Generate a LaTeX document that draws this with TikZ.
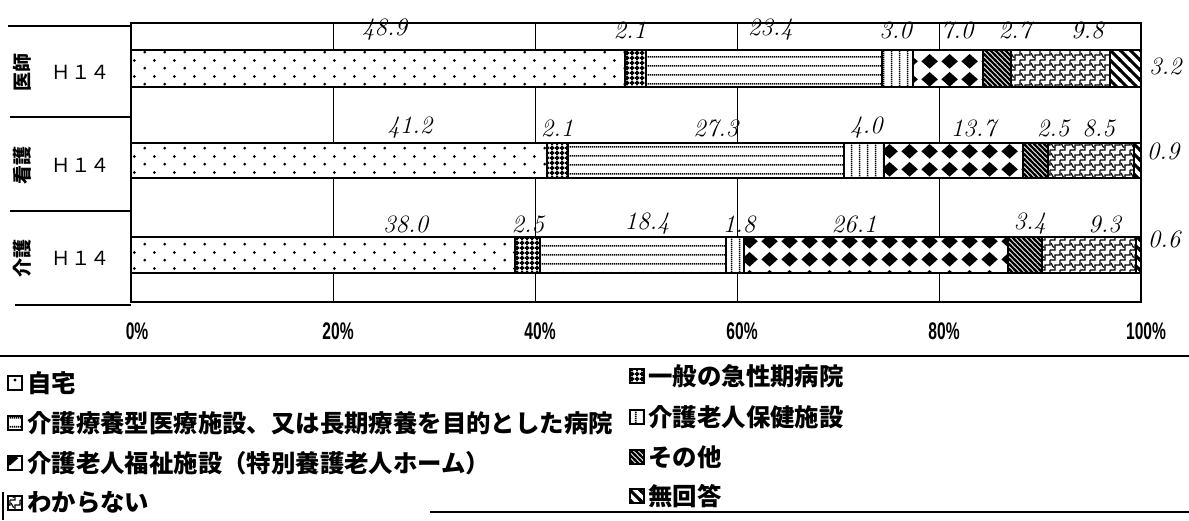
\documentclass[tikz,border=0pt]{standalone}
\usepackage{fontspec}
\newfontfamily\jpfont{Noto Sans CJK JP}
\newfontfamily\axisfont[FakeStretch=0.65]{Liberation Sans}
\usetikzlibrary{patterns}

\pgfdeclarepatternformonly{zitaku dots}{\pgfpointorigin}{\pgfpoint{10pt}{8pt}}{\pgfpoint{10pt}{8pt}}{%
  \pgfpathcircle{\pgfpoint{2.5pt}{2pt}}{0.8pt}%
  \pgfpathcircle{\pgfpoint{7.5pt}{6pt}}{0.8pt}%
  \pgfusepath{fill}}
\pgfdeclarepatternformonly{ippan checks}{\pgfpointorigin}{\pgfpoint{2.5pt}{2.5pt}}{\pgfpoint{2.5pt}{2.5pt}}{%
  \pgfsetlinewidth{1.1pt}%
  \pgfpathmoveto{\pgfpoint{0pt}{1.25pt}}\pgfpathlineto{\pgfpoint{2.5pt}{1.25pt}}%
  \pgfpathmoveto{\pgfpoint{1.25pt}{0pt}}\pgfpathlineto{\pgfpoint{1.25pt}{2.5pt}}%
  \pgfusepath{stroke}}
\pgfdeclarepatternformonly{ryoyo lines}{\pgfpointorigin}{\pgfpoint{1pt}{4.5pt}}{\pgfpoint{1pt}{4.5pt}}{%
  \pgfsetlinewidth{0.9pt}%
  \pgfpathmoveto{\pgfpoint{0pt}{2.25pt}}\pgfpathlineto{\pgfpoint{1pt}{2.25pt}}%
  \pgfusepath{stroke}}
\pgfdeclarepatternformonly{hoken lines}{\pgfpointorigin}{\pgfpoint{4pt}{1pt}}{\pgfpoint{4pt}{1pt}}{%
  \pgfsetlinewidth{0.9pt}%
  \pgfpathmoveto{\pgfpoint{2pt}{0pt}}\pgfpathlineto{\pgfpoint{2pt}{1pt}}%
  \pgfusepath{stroke}}
\pgfdeclarepatternformonly{fukushi diamonds}{\pgfpointorigin}{\pgfpoint{10pt}{9pt}}{\pgfpoint{10pt}{9pt}}{%
  \pgfpathmoveto{\pgfpoint{5pt}{0.7pt}}%
  \pgfpathlineto{\pgfpoint{9.3pt}{4.5pt}}%
  \pgfpathlineto{\pgfpoint{5pt}{8.3pt}}%
  \pgfpathlineto{\pgfpoint{0.7pt}{4.5pt}}%
  \pgfpathclose
  \pgfusepath{fill}}
\pgfdeclarepatternformonly{sonota lines}{\pgfpoint{-1pt}{-1pt}}{\pgfpoint{3.5pt}{3.5pt}}{\pgfpoint{2.5pt}{2.5pt}}{%
  \pgfsetlinewidth{1.2pt}%
  \pgfpathmoveto{\pgfpoint{-0.5pt}{3pt}}\pgfpathlineto{\pgfpoint{3pt}{-0.5pt}}%
  \pgfusepath{stroke}}
\pgfdeclarepatternformonly{wakaranai steps}{\pgfpoint{-0.5pt}{-0.5pt}}{\pgfpoint{5.5pt}{5.5pt}}{\pgfpoint{5pt}{5pt}}{%
  \pgfsetlinewidth{0.6pt}%
  \pgfpathmoveto{\pgfpoint{0pt}{0pt}}%
  \pgfpathlineto{\pgfpoint{2.5pt}{0pt}}%
  \pgfpathlineto{\pgfpoint{2.5pt}{2.5pt}}%
  \pgfpathlineto{\pgfpoint{5pt}{2.5pt}}%
  \pgfpathlineto{\pgfpoint{5pt}{5pt}}%
  \pgfpathmoveto{\pgfpoint{0.5pt}{3.5pt}}%
  \pgfpathlineto{\pgfpoint{1.8pt}{1.2pt}}%
  \pgfusepath{stroke}}
\pgfdeclarepatternformonly{mukaito stripes}{\pgfpoint{-1pt}{-1pt}}{\pgfpoint{6pt}{6pt}}{\pgfpoint{5pt}{5pt}}{%
  \pgfsetlinewidth{1.5pt}%
  \pgfpathmoveto{\pgfpoint{-1pt}{6pt}}\pgfpathlineto{\pgfpoint{6pt}{-1pt}}%
  \pgfusepath{stroke}}

\tikzstyle{frameline} = [line width=1.4pt]
\tikzstyle{rowline} = [line width=0.75pt]
\tikzstyle{gridline} = [line width=0.5pt]
\tikzstyle{barseg} = [draw, line width=1pt, preaction={fill=white}]
\tikzstyle{val} = [font=\itshape\fontsize{12.5}{12.5}\selectfont, inner sep=0pt]
\tikzstyle{rowname} = [font=\jpfont\bfseries\fontsize{9.5}{9.5}\selectfont, rotate=90, inner sep=0pt]
\tikzstyle{year} = [font=\jpfont\fontsize{9.7}{9.7}\selectfont, inner sep=0pt]
\tikzstyle{axislab} = [font=\axisfont\bfseries\fontsize{12}{12}\selectfont, inner sep=0pt]
\tikzstyle{legkey} = [draw, line width=1.1pt, minimum size=7pt, inner sep=0pt]
\tikzstyle{legtext} = [font=\jpfont\bfseries\fontsize{12.2}{12.2}\selectfont, anchor=west, inner sep=0pt]

\begin{document}
\begin{tikzpicture}[x=0.5pt, y=-0.5pt]
        \useasboundingbox (0,0) rectangle (1189,520);
        \node [rowname] at (22,72) (isi) {医師};
        \node [year] at (81,72) (isiyear) {Ｈ１４};
        \node [rowname] at (22,165) (kango) {看護};
        \node [year] at (81,165) (kangoyear) {Ｈ１４};
        \node [rowname] at (22,258) (kaigo) {介護};
        \node [year] at (81,258) (kaigoyear) {Ｈ１４};
        \draw [rowline] (8,26) -- (131,26);
        \draw [rowline] (10,117) -- (131,117);
        \draw [rowline] (10,211) -- (131,211);
        \draw [rowline] (15,305) -- (131,305);
        \begin{scope}[shift={(131,0)}, x=5.05pt]
        \draw [gridline] (20,23) -- (20,302);
        \draw [gridline] (40,23) -- (40,302);
        \draw [gridline] (60,23) -- (60,302);
        \draw [gridline] (80,23) -- (80,302);
        % 医師
        \draw [barseg, pattern=zitaku dots] (0,50) rectangle (48.9,87);
        \draw [barseg, pattern=ippan checks] (48.9,50) rectangle (51.0,87);
        \draw [barseg, pattern=ryoyo lines] (51.0,50) rectangle (74.4,87);
        \draw [barseg, pattern=hoken lines] (74.4,50) rectangle (77.4,87);
        \draw [barseg, pattern=fukushi diamonds] (77.4,50) rectangle (84.4,87);
        \draw [barseg, pattern=sonota lines] (84.4,50) rectangle (87.1,87);
        \draw [barseg, pattern=wakaranai steps] (87.1,50) rectangle (96.9,87);
        \draw [barseg, pattern=mukaito stripes] (96.9,50) rectangle (100,87);
        % 看護
        \draw [barseg, pattern=zitaku dots] (0,143) rectangle (41.2,178);
        \draw [barseg, pattern=ippan checks] (41.2,143) rectangle (43.3,178);
        \draw [barseg, pattern=ryoyo lines] (43.3,143) rectangle (70.6,178);
        \draw [barseg, pattern=hoken lines] (70.6,143) rectangle (74.6,178);
        \draw [barseg, pattern=fukushi diamonds] (74.6,143) rectangle (88.3,178);
        \draw [barseg, pattern=sonota lines] (88.3,143) rectangle (90.8,178);
        \draw [barseg, pattern=wakaranai steps] (90.8,143) rectangle (99.3,178);
        \draw [barseg, pattern=mukaito stripes] (99.3,143) rectangle (100,178);
        % 介護
        \draw [barseg, pattern=zitaku dots] (0,237) rectangle (38.0,273);
        \draw [barseg, pattern=ippan checks] (38.0,237) rectangle (40.5,273);
        \draw [barseg, pattern=ryoyo lines] (40.5,237) rectangle (58.9,273);
        \draw [barseg, pattern=hoken lines] (58.9,237) rectangle (60.7,273);
        \draw [barseg, pattern=fukushi diamonds] (60.7,237) rectangle (86.8,273);
        \draw [barseg, pattern=sonota lines] (86.8,237) rectangle (90.2,273);
        \draw [barseg, pattern=wakaranai steps] (90.2,237) rectangle (99.5,273);
        \draw [barseg, pattern=mukaito stripes] (99.5,237) rectangle (100,273);
        \draw [frameline] (0,23) rectangle (100,302);
        \node [val] at (25.1,30) (isi1) {48.9};
        \node [val] at (49.4,30) (isi2) {2.1};
        \node [val] at (63.3,30) (isi3) {23.4};
        \node [val] at (75.7,30) (isi4) {3.0};
        \node [val] at (81.8,30) (isi5) {7.0};
        \node [val] at (87.5,30) (isi6) {2.7};
        \node [val] at (94.7,30) (isi7) {9.8};
        \node [val] at (102.4,66) (isi8) {3.2};
        \node [val] at (27.6,128) (kango1) {41.2};
        \node [val] at (42.2,128) (kango2) {2.1};
        \node [val] at (57.9,128) (kango3) {27.3};
        \node [val] at (72.8,128) (kango4) {4.0};
        \node [val] at (83.4,128) (kango5) {13.7};
        \node [val] at (91.3,128) (kango6) {2.5};
        \node [val] at (95.8,128) (kango7) {8.5};
        \node [val] at (102.2,151) (kango8) {0.9};
        \node [val] at (27.2,224) (kaigo1) {38.0};
        \node [val] at (39.3,224) (kaigo2) {2.5};
        \node [val] at (51.1,224) (kaigo3) {18.4};
        \node [val] at (60.2,224) (kaigo4) {1.8};
        \node [val] at (71.6,224) (kaigo5) {26.1};
        \node [val] at (89.0,224) (kaigo6) {3.4};
        \node [val] at (96.4,224) (kaigo7) {9.3};
        \node [val] at (102.3,239) (kaigo8) {0.6};
        \node [axislab] at (0.6,331) (ax0) {0\%};
        \node [axislab] at (20.5,331) (ax20) {20\%};
        \node [axislab] at (40.5,331) (ax40) {40\%};
        \node [axislab] at (60.5,331) (ax60) {60\%};
        \node [axislab] at (80.5,331) (ax80) {80\%};
        \node [axislab] at (100.5,331) (ax100) {100\%};
        \end{scope}
        \draw [rowline] (0,356) -- (1189,356);
        \draw [rowline] (430,512) -- (1189,512);
        \draw [rowline] (3,492) -- (3,520);
        \node [legkey, pattern=zitaku dots] at (15,383) (kzitaku) {};
        \node [legtext] at (27,383) (lzitaku) {自宅};
        \node [legkey, pattern=ryoyo lines] at (15,423) (kryoyo) {};
        \node [legtext] at (27,423) (lryoyo) {介護療養型医療施設、又は長期療養を目的とした病院};
        \node [legkey, pattern=fukushi diamonds] at (15,463) (kfukushi) {};
        \node [legtext] at (27,463) (lfukushi) {介護老人福祉施設（特別養護老人ホーム）};
        \node [legkey, pattern=wakaranai steps] at (15,503) (kwakaranai) {};
        \node [legtext] at (27,503) (lwakaranai) {わからない};
        \node [legkey, pattern=ippan checks] at (637,376) (kippan) {};
        \node [legtext] at (648,376) (lippan) {一般の急性期病院};
        \node [legkey, pattern=hoken lines] at (637,417) (khoken) {};
        \node [legtext] at (648,417) (lhoken) {介護老人保健施設};
        \node [legkey, pattern=sonota lines] at (637,457) (ksonota) {};
        \node [legtext] at (648,457) (lsonota) {その他};
        \node [legkey, pattern=mukaito stripes] at (637,496) (kmukaito) {};
        \node [legtext] at (648,496) (lmukaito) {無回答};
\end{tikzpicture}
\end{document}
